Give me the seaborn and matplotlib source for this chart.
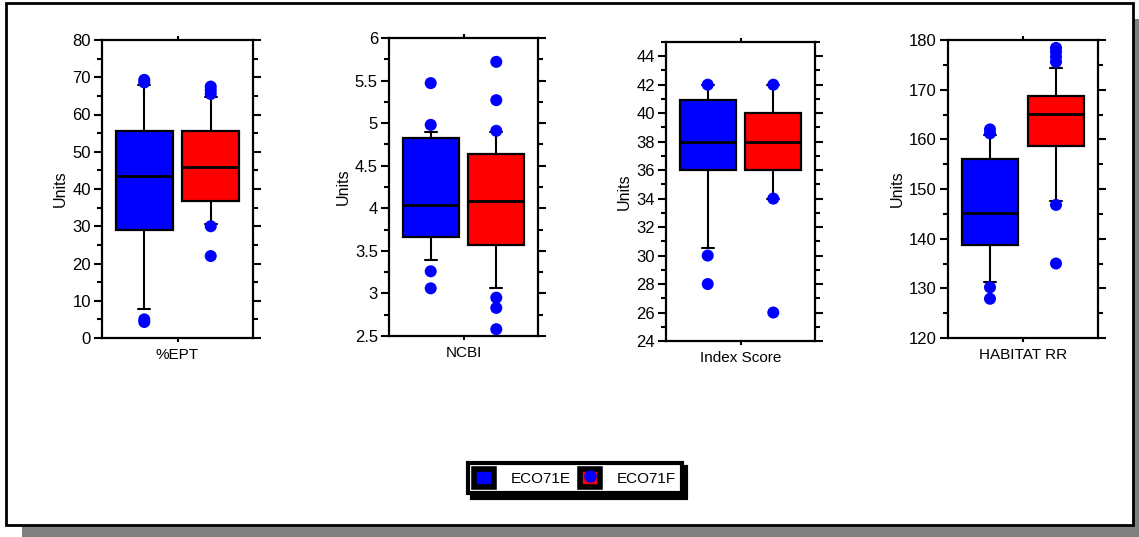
import numpy as np
import pandas as pd
import matplotlib
matplotlib.use("Agg")
import matplotlib.pyplot as plt
import seaborn as sns
from matplotlib.patches import Rectangle, Patch
from matplotlib.lines import Line2D
from matplotlib.ticker import MultipleLocator, FuncFormatter

# ==============================================================================
# DATA (box summaries)
# ==============================================================================
METRICS = ["%EPT", "NCBI", "Index Score", "HABITAT RR"]
SITES = ["ECO71E", "ECO71F"]
COLORS = ["#0000ff", "#ff0000"]

# ECO71E
LOW_E = [7.7, 3.39, 30.5, 131.2]
Q1_E = [29.0, 3.66, 36.0, 138.8]
MED_E = [43.4, 4.04, 38.0, 145.2]
Q3_E = [55.6, 4.82, 40.9, 156.0]
HIGH_E = [68.0, 4.90, 42.0, 160.8]
OUT_E = [[69.3, 68.6, 5.0, 4.3],
         [5.47, 4.98, 3.26, 3.06],
         [42.0, 30.0, 28.0],
         [162.0, 161.2, 130.2, 127.9]]

# ECO71F
LOW_F = [30.5, 3.06, 34.0, 147.6]
Q1_F = [36.8, 3.57, 36.0, 158.7]
MED_F = [46.0, 4.09, 38.0, 165.2]
Q3_F = [55.6, 4.64, 40.0, 168.8]
HIGH_F = [64.7, 4.90, 42.0, 174.4]
OUT_F = [[67.5, 66.5, 65.5, 30.0, 22.0],
         [5.72, 5.27, 4.91, 2.95, 2.83, 2.58],
         [42.0, 34.0, 26.0],
         [178.4, 177.6, 176.6, 175.6, 146.8, 135.0]]

Y_LIMS = [(0, 80), (2.5, 6), (24, 45), (120, 180)]
Y_MAJOR = [10, 0.5, 2, 10]
Y_MINOR = [5, 0.25, 1, 5]

# ==============================================================================
# LAYOUT (pixel boxes of each panel: left, top, right, bottom)
# ==============================================================================
W, H = 1139, 537
PANELS = [(102, 40, 253, 338), (389, 38, 538, 336), (666, 42, 815, 341), (948, 40, 1098, 338)]
POS = [1, 2]

sns.set_style("white")
plt.rcParams['font.family'] = ['Liberation Sans', 'DejaVu Sans']
plt.rcParams['text.color'] = 'black'
plt.rcParams['axes.labelcolor'] = 'black'
plt.rcParams['xtick.color'] = 'black'
plt.rcParams['ytick.color'] = 'black'

fig = plt.figure(figsize=(W / 100, H / 100), dpi=100)
fig.patch.set_facecolor("white")

# drop shadow + border around the whole chart
fig.patches.append(Rectangle((22 / W, 0), 1 - 22 / W, 1 - 19 / H, transform=fig.transFigure,
                             facecolor="#808080", edgecolor="none", zorder=-3))
fig.patches.append(Rectangle((6 / W, 1 - 525 / H), (1133 - 6) / W, (525 - 3) / H, transform=fig.transFigure,
                             facecolor="white", edgecolor="black", lw=2, zorder=-2))

fmt = FuncFormatter(lambda v, p: f"{v:g}")

for i, metric in enumerate(METRICS):
    l, t, r, b = PANELS[i]
    ax = fig.add_axes([l / W, 1 - b / H, (r - l) / W, (b - t) / H])

    stats = [
        dict(whislo=LOW_E[i], q1=Q1_E[i], med=MED_E[i], q3=Q3_E[i], whishi=HIGH_E[i], fliers=[]),
        dict(whislo=LOW_F[i], q1=Q1_F[i], med=MED_F[i], q3=Q3_F[i], whishi=HIGH_F[i], fliers=[]),
    ]
    bp = ax.bxp(stats, positions=POS, widths=0.85, patch_artist=True, showfliers=False,
                capwidths=0.18,
                boxprops=dict(edgecolor="black", lw=1.6),
                medianprops=dict(color="black", lw=2),
                whiskerprops=dict(color="black", lw=1.5),
                capprops=dict(color="black", lw=1.5))
    for patch, c in zip(bp["boxes"], COLORS):
        patch.set_facecolor(c)

    # outliers, all drawn in blue as in the source
    out = pd.DataFrame({
        "pos": [POS[0]] * len(OUT_E[i]) + [POS[1]] * len(OUT_F[i]),
        "value": OUT_E[i] + OUT_F[i],
    })
    sns.scatterplot(data=out, x="pos", y="value", ax=ax, color="#0000ff", s=75,
                    edgecolor="none", zorder=5, legend=False)

    ax.set_xlim(0.364, 2.636)
    ax.set_ylim(*Y_LIMS[i])
    ax.yaxis.set_major_locator(MultipleLocator(Y_MAJOR[i]))
    ax.yaxis.set_minor_locator(MultipleLocator(Y_MINOR[i]))
    ax.yaxis.set_major_formatter(fmt)
    ax.set_xticks([1.5])
    ax.set_xticklabels([metric])
    ax.set_xlabel("")
    ax.set_ylabel("Units", fontsize=11.5, labelpad=3)

    for s in ax.spines.values():
        s.set_visible(True)
        s.set_color("black")
        s.set_linewidth(1.6)
    ax.tick_params(axis="y", which="both", left=True, right=True, direction="out",
                   width=1.5, labelsize=12, pad=2, colors="black")
    ax.tick_params(axis="y", which="major", length=6)
    ax.tick_params(axis="y", which="minor", length=3.5)
    ax.tick_params(axis="x", which="both", bottom=True, top=True, direction="out",
                   length=3, width=1.5, labelsize=11, pad=4, colors="black")

# legend with double black frame
handles = [
    Patch(facecolor=COLORS[0], edgecolor="black", lw=4),
    (Patch(facecolor=COLORS[1], edgecolor="black", lw=4),
     Line2D([], [], marker="o", color="#0000ff", ms=8, ls="none")),
]
leg = fig.legend(handles, SITES, loc="center", bbox_to_anchor=(575 / W, 1 - 478 / H), ncol=2,
                 fontsize=11, frameon=True, fancybox=False, framealpha=1, edgecolor="black",
                 handlelength=1.3, handleheight=1.5, handletextpad=1.1, columnspacing=0.6,
                 borderpad=0.4, labelcolor="black",
                 shadow={"color": "black", "alpha": 1, "ox": 3, "oy": -3})
leg.get_frame().set_linewidth(3)

fig.savefig("out.png", dpi=100)
